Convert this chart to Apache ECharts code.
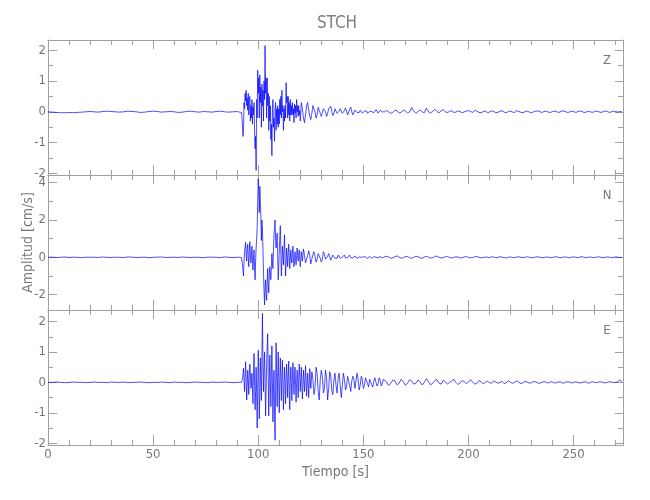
<!DOCTYPE html>
<html><head><meta charset="utf-8">
<script src="https://cdn.jsdelivr.net/npm/echarts@6/dist/echarts.min.js"></script>
<style>html,body{margin:0;padding:0;background:#fff}#c{width:650px;height:500px}</style>
</head><body><div id="c"></div>
<script>
const stationName = 'STCH';
const componentNames = ['Z', 'N', 'E'];
const xLabel = 'Tiempo [s]';
const yLabel = 'Amplitud [cm/s]';
const timeMin = 0, timeMax = 273.5;
const xMajorTicks = [0, 50, 100, 150, 200, 250];
const xMinorTicks = [10, 20, 30, 40, 60, 70, 80, 90, 110, 120, 130, 140, 160, 170, 180, 190, 210, 220, 230, 240, 260, 270];

const yRangeZ = [-2.05, 2.33], yMajorZ = [-2, -1, 0, 1, 2], yMinorZ = [-1.5, -0.5, 0.5, 1.5];
const yRangeN = [-2.82, 4.41], yMajorN = [-2, 0, 2, 4], yMinorN = [-3, -1, 1, 3];
const yRangeE = [-2.06, 2.38], yMajorE = [-2, -1, 0, 1, 2], yMinorE = [-1.5, -0.5, 0.5, 1.5];

// sampling grid of the traces (seconds)
const preStart = 0, preStep = 2;          // 0 .. 90
const denseStart = 90.25, denseStep = 0.25; // 90.25 .. 120
const mainStart = 120.5, mainStep = 0.5;  // 120.5 .. 160
const tailStart = 161, tailStep = 1;      // 161 .. 273

const zPre = [0,-0.01,-0.02,-0.03,-0.03,-0.02,-0.03,-0.02,-0.01,0,0.01,0,-0.01,0.01,0.02,0.01,0,-0.01,0,0.02,0.01,0,-0.02,-0.01,0.01,0.02,0.01,-0.01,0,0.01,0,-0.02,-0.01,0.01,0.02,0,-0.01,0.01,0,-0.01,0.01,0.02,0,-0.01,0,0.01];
const zDense = [
 0,0.01,0,-0.01,0.01,0,0.01,-0.02,
 -0.15,-0.5,-0.8,-0.6,0.3,0.1,0.6,0.35,
 0.7,0.2,0.45,0.05,0.6,-0.1,0.35,0.5,
 -0.3,0.2,-0.2,0.4,-0.4,0.15,-0.1,0.3,
 -0.6,-1.2,-0.8,-1.9,0.4,-0.2,1.35,0.6,
 1.1,-0.2,1.2,0.3,0.8,-0.5,0.9,0.2,
 0.7,-0.3,1.0,0.4,2.15,0.6,1.1,-0.2,
 1.1,0.2,0.6,-0.6,0.5,-0.3,0.2,-0.9,
 -0.4,-1.42,0.1,0.4,-0.5,-0.2,-0.95,0.1,
 0.3,-0.6,0.1,-0.4,0.2,-0.5,0.1,-0.4,
 0.4,-0.1,0.5,-0.2,0.7,0.0,0.2,-0.6,
 0.1,-0.3,0.2,-0.2,0.95,0.3,0.5,-0.2,
 0.5,-0.1,0.3,-0.3,0.4,-0.1,0.2,-0.1,
 0.3,-0.1,0.1,-0.35,0.25,-0.05,0.2,-0.2,
 0.4,0.0,0.2,-0.15,0.2,-0.1,0.05,-0.3];
const zMain = [
 0.3,0.1,-0.2,-0.35,-0.1,0.2,0.3,0.05,-0.15,-0.25,
 -0.05,0.2,0.25,0.0,-0.2,-0.1,0.15,0.2,-0.05,-0.15,
 -0.1,0.1,0.15,0.0,-0.15,-0.05,0.1,0.05,0.18,0.02,
 -0.12,-0.05,0.1,0.08,-0.05,-0.1,0.02,0.1,0.04,-0.05,
 -0.08,0.04,0.12,0.02,-0.1,-0.04,0.08,0.15,0.0,-0.1,
 -0.04,0.06,0.08,-0.02,-0.08,-0.03,0.05,0.06,-0.04,-0.06,
 0.02,0.07,0.03,-0.05,-0.06,0.02,0.06,0.01,-0.04,-0.03,
 0.03,0.07,0.02,-0.04,-0.02,0.05,0.1,0.0,-0.04,0.0];
const zTail = [
 0.04,0.0,-0.05,-0.02,0.05,0.03,-0.04,-0.02,0.06,0.02,-0.04,0.0,0.14,0.02,-0.05,0.01,0.06,0.0,-0.03,0.12,
 0.0,-0.04,0.02,0.08,0.01,-0.03,0.03,0.07,0.0,-0.03,0.02,0.03,-0.02,-0.01,0.03,0.01,-0.03,0.0,0.02,0.04,
 0.01,-0.02,0.05,0.02,-0.02,-0.03,0.01,0.02,-0.02,-0.01,0.03,0.01,-0.03,-0.02,0.02,0.03,-0.01,-0.03,0.01,0.02,
 -0.01,-0.02,0.04,0.01,-0.02,-0.03,0.01,0.02,-0.01,-0.03,0.0,0.02,0.03,0.0,-0.02,0.01,0.02,-0.01,-0.02,0.01,
 0.02,0.0,-0.02,0.01,0.03,0.01,-0.02,-0.01,0.02,0.01,-0.02,0.0,0.03,0.01,-0.02,-0.01,0.02,0.0,-0.02,0.01,
 0.02,0.0,-0.02,0.0,0.03,0.01,-0.02,0.0,0.02,0.01,-0.01,0.01,0.0];

const nPre = [0,0.01,-0.01,0,0.02,-0.01,0.01,0,-0.02,0.01,0,0.01,-0.01,0.02,0,-0.01,0.01,0,-0.01,0.02,0.01,-0.01,0,0.01,-0.02,0,0.01,0.02,-0.01,0,0.01,-0.01,0.02,0,-0.01,0.01,0,-0.02,0.01,0.01,0,-0.01,0.02,0,-0.01,0];
const nDense = [
 0,0,0.01,0.01,0,0,-0.01,-0.02,
 -0.2,-0.4,-0.7,-1.0,-0.2,0.3,0.2,0.8,
 0.1,-0.2,0.4,0.7,0.0,-0.5,0.3,0.84,
 0.2,-0.3,0.1,0.6,-0.2,-0.68,0.0,0.4,
 -0.5,-1.2,-0.2,0.5,1.0,1.6,3.0,4.2,
 3.4,2.4,3.8,3.0,2.2,0.9,2.0,1.5,
 0.4,-0.8,-1.8,-2.55,-1.6,-1.2,-2.0,-2.3,
 -1.3,-0.6,-1.5,-1.9,-1.0,-0.5,-0.9,-1.2,
 -0.5,0.2,-0.3,-0.6,0.4,1.2,1.6,2.0,
 1.0,0.5,0.9,1.3,0.1,-1.2,-0.5,0.3,
 1.1,1.7,0.3,-1.0,-0.3,0.6,0.1,-0.4,
 0.5,1.2,0.0,-1.0,-0.3,0.5,0.1,-0.5,
 0.2,0.7,0.1,-0.6,-0.1,0.4,0.0,-0.3,
 0.2,0.6,0.0,-0.5,-0.1,0.3,0.0,-0.4,
 0.1,0.5,0.1,-0.2,0.1,0.4,-0.1,-0.5];
const nMain = [
 0.3,-0.2,0.45,0.1,-0.3,-0.4,0.1,0.35,0.1,-0.35,
 -0.1,0.15,0.3,0.05,-0.25,-0.1,0.2,0.25,-0.05,-0.25,
 -0.1,0.3,0.15,-0.1,-0.2,0.05,0.2,0.1,-0.15,-0.05,
 0.12,0.18,-0.05,-0.15,-0.05,0.12,0.1,-0.05,-0.12,0.02,
 0.1,0.12,-0.04,-0.1,0.0,0.08,0.12,-0.02,-0.1,-0.04,
 0.04,0.08,0.02,-0.06,-0.08,0.02,0.06,0.0,-0.05,0.03,
 0.07,0.02,-0.04,-0.06,0.01,0.05,0.03,-0.05,-0.02,0.04,
 0.06,0.0,-0.05,-0.02,0.04,0.05,-0.01,-0.04,0.0,0.03];
const nTail = [
 0.06,0.02,-0.05,-0.03,0.04,0.08,0.01,-0.05,-0.02,0.04,0.05,-0.02,-0.05,0.0,0.06,0.03,-0.03,-0.05,0.02,0.05,
 0.01,-0.04,-0.02,0.04,0.07,0.0,-0.04,-0.01,0.03,0.05,-0.01,-0.04,0.0,0.03,0.02,-0.03,-0.02,0.02,0.04,0.0,
 -0.03,-0.01,0.03,0.05,0.0,-0.03,-0.01,0.02,0.01,-0.02,0.03,0.02,-0.02,-0.01,0.04,0.01,-0.02,-0.03,0.01,0.02,
 -0.01,-0.02,0.02,0.03,0.0,-0.02,0.01,0.03,0.0,-0.02,-0.01,0.02,0.03,0.0,-0.02,-0.01,0.02,0.01,-0.02,0.0,
 0.02,0.03,-0.01,-0.02,0.01,0.02,0.0,-0.02,0.01,0.03,0.0,-0.02,0.02,0.04,0.0,-0.02,0.01,0.02,-0.01,-0.02,
 0.01,0.03,0.0,-0.02,0.0,0.02,0.01,-0.02,0.0,0.02,0.01,-0.01,0.0];

const ePre = [0,0,0.01,0,-0.01,0,0.01,0,0,-0.01,0,0.01,0,0,-0.01,0.01,0,0,0.01,-0.01,0,0,0.01,0,-0.01,0,0,0.01,0,-0.01,0.01,0,0,-0.01,0,0.01,0,0,-0.01,0.01,0,0,0.01,0,-0.01,0];
const eDense = [
 0,0,0.01,0,0,0.01,0,0,
 0.05,0.1,0.3,0.46,0.1,-0.3,0.2,0.68,
 0.1,-0.58,-0.1,0.4,0.1,-0.4,0.2,0.6,
 0.3,-0.2,-0.1,0.3,-0.2,-0.7,0.3,0.95,
 0.1,-0.9,-0.3,0.5,-0.4,-1.5,-0.2,1.06,
 0.2,-1.2,-0.3,0.8,0.1,-0.6,0.9,2.27,
 0.6,-0.3,0.5,1.0,0.0,-1.1,-0.2,0.6,
 1.2,1.6,0.2,-1.1,0.1,0.9,0.1,-0.8,
 0.3,1.2,0.0,-1.3,-0.2,0.4,-0.8,-1.9,
 -0.2,1.3,0.3,-0.8,0.2,1.0,0.0,-1.0,
 0.1,0.8,0.1,-0.6,0.2,0.73,-0.1,-0.9,
 -0.1,0.5,0.0,-0.7,0.1,0.6,0.1,-0.5,
 0.2,0.7,-0.2,-0.9,0.0,0.5,0.0,-0.6,
 0.1,0.65,0.1,-0.4,0.1,0.5,-0.1,-0.65,
 0.0,0.4,0.0,-0.5,0.1,0.6,0.2,-0.3];
const eMain = [
 0.5,-0.55,0.4,-0.3,0.55,-0.45,0.3,-0.5,0.45,-0.2,
 0.35,0.1,-0.4,-0.2,0.5,0.3,-0.3,-0.58,0.1,0.4,
 0.2,-0.35,-0.2,0.4,0.15,-0.58,-0.2,0.35,0.2,-0.3,
 -0.4,0.1,0.3,-0.1,-0.35,0.15,0.3,-0.1,-0.5,-0.1,
 0.3,0.1,-0.25,-0.15,0.2,0.25,-0.1,-0.3,0.05,0.2,
 0.1,-0.2,-0.15,0.3,0.1,-0.25,-0.1,0.2,0.1,-0.2,
 -0.1,0.15,0.2,-0.05,-0.15,0.1,0.12,-0.08,-0.15,0.05,
 0.15,0.0,-0.12,-0.05,0.15,0.08,-0.12,-0.05,0.1,0.12];
const eTail = [
 0.02,-0.1,-0.04,0.08,0.05,-0.08,-0.03,0.1,0.02,-0.1,-0.02,0.09,0.04,-0.06,-0.03,0.08,0.02,-0.09,0.0,0.12,
 0.02,-0.08,-0.03,0.06,0.09,-0.02,-0.06,0.07,0.01,-0.05,0.0,0.05,0.1,0.0,-0.07,-0.02,0.06,0.02,-0.04,0.01,
 0.09,0.01,-0.06,-0.03,0.06,0.02,-0.05,0.0,0.04,-0.01,-0.03,0.05,0.01,-0.03,0.0,0.03,-0.04,-0.01,0.05,0.0,
 -0.03,0.01,0.05,0.0,-0.04,-0.01,0.03,0.01,-0.03,0.0,0.02,0.02,-0.02,-0.03,0.01,0.02,0.0,-0.02,0.02,0.01,
 -0.02,-0.01,0.02,0.01,-0.03,0.0,0.02,0.01,-0.02,0.0,0.02,0.0,-0.02,-0.01,0.02,0.01,-0.03,0.0,0.02,0.0,
 -0.01,0.01,0.02,0.0,-0.02,0.0,0.02,0.01,-0.01,0.0,0.02,0.08,0.02];

function buildTrace(pre, dense, main, tail) {
  const out = [];
  pre.forEach((v, i) => out.push([preStart + i * preStep, v]));
  dense.forEach((v, i) => out.push([denseStart + i * denseStep, v]));
  main.forEach((v, i) => out.push([mainStart + i * mainStep, v]));
  tail.forEach((v, i) => out.push([tailStart + i * tailStep, v]));
  return out;
}

const panels = [
  { name: componentNames[0], range: yRangeZ, major: yMajorZ, minor: yMinorZ, data: buildTrace(zPre, zDense, zMain, zTail) },
  { name: componentNames[1], range: yRangeN, major: yMajorN, minor: yMinorN, data: buildTrace(nPre, nDense, nMain, nTail) },
  { name: componentNames[2], range: yRangeE, major: yMajorE, minor: yMinorE, data: buildTrace(ePre, eDense, eMain, eTail) }
];

const FONT = "'Liberation Sans Narrow', 'DejaVu Sans Condensed', 'Liberation Sans', sans-serif";
const axisColor = '#a0a0a0';
const textColor = '#777777';
const gridTops = [40, 175, 310];
const gridH = 135, gridLeft = 48, gridRight = 27;

const grids = [], xAxes = [], yAxes = [], series = [], graphics = [];

panels.forEach((p, g) => {
  grids.push({ left: gridLeft, right: gridRight, top: gridTops[g], height: gridH });
  const isBottom = g === panels.length - 1;
  const mkX = (pos, ticks, len, line, label) => ({
    type: 'value', gridIndex: g, position: pos, min: timeMin, max: timeMax,
    axisLine: { show: line, onZero: false, lineStyle: { color: axisColor, width: 1 } },
    axisTick: { show: true, inside: true, length: len, customValues: ticks, lineStyle: { color: axisColor, width: 1 } },
    axisLabel: label ? { show: true, customValues: xMajorTicks, color: textColor, fontFamily: FONT, fontSize: 13, margin: 3 } : { show: false },
    splitLine: { show: false },
    name: (label ? xLabel : ''), nameLocation: 'middle', nameGap: 20, nameMoveOverlap: false,
    nameTextStyle: { color: textColor, fontFamily: FONT, fontSize: 14 }
  });
  xAxes.push(mkX('bottom', xMajorTicks, 10, true, isBottom));
  xAxes.push(mkX('bottom', xMinorTicks, 5, false, false));
  xAxes.push(mkX('top', xMajorTicks, 9, true, false));
  xAxes.push(mkX('top', xMinorTicks, 5, false, false));
  const mkY = (pos, ticks, len, line, label, name) => ({
    type: 'value', gridIndex: g, position: pos, min: p.range[0], max: p.range[1],
    axisLine: { show: line, onZero: false, lineStyle: { color: axisColor, width: 1 } },
    axisTick: { show: true, inside: true, length: len, customValues: ticks, lineStyle: { color: axisColor, width: 1 } },
    axisLabel: label ? { show: true, customValues: p.major, color: textColor, fontFamily: FONT, fontSize: 13, margin: 2 } : { show: false },
    splitLine: { show: false },
    name: name || '', nameLocation: 'middle', nameGap: 13, nameRotate: 90, nameMoveOverlap: false,
    nameTextStyle: { color: textColor, fontFamily: FONT, fontSize: 14 }
  });
  yAxes.push(mkY('left', p.major, 9, true, true, g === 1 ? yLabel : ''));
  yAxes.push(mkY('left', p.minor, 5, false, false));
  yAxes.push(mkY('right', p.major, 8, true, false));
  yAxes.push(mkY('right', p.minor, 5, false, false));
  series.push({
    type: 'line', name: p.name, xAxisIndex: 4 * g, yAxisIndex: 4 * g,
    data: p.data, showSymbol: false, symbol: 'none', sampling: null,
    lineStyle: { color: '#0000ff', width: 0.7 }, animation: false
  });
  graphics.push({
    type: 'text', x: 607, y: gridTops[g] + 21,
    style: { text: p.name, fill: textColor, font: '13px ' + FONT, textAlign: 'center', textVerticalAlign: 'middle' }
  });
});

graphics.push({
  type: 'text', x: 337, y: 24,
  style: { text: stationName, fill: '#808080', font: '17px ' + FONT, textAlign: 'center', textVerticalAlign: 'middle' }
});

const chart = echarts.init(document.getElementById('c'), null, { renderer: 'canvas' });
chart.setOption({
  animation: false,
  backgroundColor: '#ffffff',
  grid: grids, xAxis: xAxes, yAxis: yAxes, series: series, graphic: graphics
});
</script></body></html>
